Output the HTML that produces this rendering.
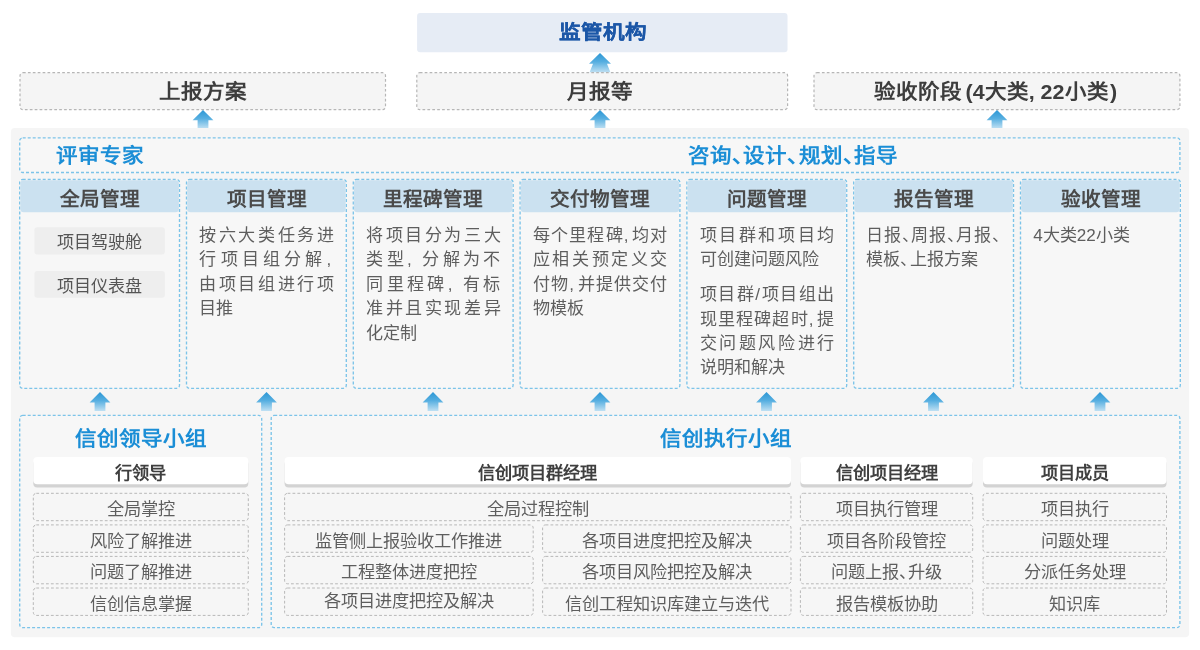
<!DOCTYPE html>
<html lang="zh-CN">
<head>
<meta charset="utf-8">
<title>信创项目管理</title>
<style>
*{box-sizing:border-box;margin:0;padding:0}
html,body{width:1200px;height:650px;background:#fff;overflow:hidden}
body{position:relative;will-change:transform;font-family:"Liberation Sans",sans-serif;color:#555}
.abs{position:absolute}
.c{text-align:center;white-space:nowrap}
.top{left:417px;top:13px;width:371px;color:#1c57a7;font-weight:700;font-size:21.6px;line-height:38px;transform:translateY(.5px) scaleY(.915);-webkit-text-stroke:.2px #1c57a7}
.gd{top:72.6px;color:#3d3d3d;font-weight:700;font-size:21.5px;line-height:38px;transform:scaleY(.93)}
.blue{color:#1b8ed6;font-weight:700;font-size:21.5px;line-height:30px;white-space:nowrap;transform:scaleY(.94)}
.col{top:179.5px;width:160px;height:209px}
.col h3{height:33px;padding-top:3.1px;color:#4a4a4a;font-size:19.6px;font-weight:700;line-height:33px;text-align:center}
.tx{margin-left:12.8px;margin-right:12.8px;font-size:17.1px;line-height:24.4px;color:#5e5e5e}
.l{white-space:nowrap;height:24.4px;transform:translateY(.9px) scaleY(.965)}
.l.j{text-align:justify;text-align-last:justify;text-justify:inter-character;white-space:normal}
.chip{font-size:17.1px;line-height:27px;color:#555;transform:translateY(1.8px) scaleY(.97)}
.hd{height:27px;color:#3f3f3f;font-weight:700;font-size:17.2px;line-height:27px;transform:translateY(2.9px) scaleY(.97)}
.row{height:27.4px;color:#5e5e5e;font-size:17.2px;line-height:27.4px;transform:translateY(3px) scaleY(.97)}
.hw{display:inline-block;width:.54em;white-space:nowrap}
.cm{display:inline-block;width:.42em;white-space:nowrap}
svg{position:absolute;left:0;top:0}
</style>
</head>
<body>
<svg width="1200" height="650" viewBox="0 0 1200 650"><defs><linearGradient id="g" x1="0" y1="0" x2="0" y2="1"><stop offset="0" stop-color="#2c97d5"/><stop offset="0.45" stop-color="#55aee0"/><stop offset="1" stop-color="#bfe0f3"/></linearGradient><style>.sg{fill:#f5f5f5;stroke:#b6b6b6;stroke-width:1.2;stroke-dasharray:2.7 2.2}.sb{fill:#f7f7f7;stroke:#7cc4e9;stroke-width:1.35;stroke-dasharray:3 2}.sr{fill:#f6f6f6;stroke:#b8b8b8;stroke-width:1;stroke-dasharray:2.8 2.1}</style></defs>
<rect x="417.1" y="12.9" width="370.4" height="39.3" rx="3" fill="#e6ecf5"/>
<polygon fill="url(#g)" points="600,53 611,63.8 607,63.8 610.5,72.5 589.5,72.5 593,63.8 589,63.8"/>
<rect x="20.0" y="72.7" width="365.5" height="37.0" rx="3" class="sg"/>
<rect x="416.8" y="72.7" width="370.8" height="37.0" rx="3" class="sg"/>
<rect x="814.0" y="72.7" width="365.9" height="37.0" rx="3" class="sg"/>
<polygon fill="url(#g)" points="203.0,110.0 213.4,120.3 208.4,120.3 208.4,128.5 197.6,128.5 197.6,120.3 192.6,120.3"/>
<polygon fill="url(#g)" points="600.0,110.0 610.4,120.3 605.4,120.3 605.4,128.5 594.6,128.5 594.6,120.3 589.6,120.3"/>
<polygon fill="url(#g)" points="997.0,110.0 1007.4,120.3 1002.4,120.3 1002.4,128.5 991.6,128.5 991.6,120.3 986.6,120.3"/>
<rect x="10.9" y="128.1" width="1178.2" height="509.2" rx="4" fill="#f5f5f5"/>
<rect x="19.7" y="137.8" width="1160.2" height="34.7" rx="3" class="sb"/>
<rect x="19.7" y="179.5" width="159.8" height="208.8" rx="3" class="sb"/>
<rect x="20.3" y="180.2" width="158.6" height="32.0" rx="3.5" fill="#cbe1f0"/>
<rect x="186.5" y="179.5" width="159.8" height="208.8" rx="3" class="sb"/>
<rect x="187.1" y="180.2" width="158.6" height="32.0" rx="3.5" fill="#cbe1f0"/>
<rect x="353.3" y="179.5" width="159.8" height="208.8" rx="3" class="sb"/>
<rect x="353.9" y="180.2" width="158.6" height="32.0" rx="3.5" fill="#cbe1f0"/>
<rect x="520.1" y="179.5" width="159.8" height="208.8" rx="3" class="sb"/>
<rect x="520.7" y="180.2" width="158.6" height="32.0" rx="3.5" fill="#cbe1f0"/>
<rect x="686.9" y="179.5" width="159.8" height="208.8" rx="3" class="sb"/>
<rect x="687.5" y="180.2" width="158.6" height="32.0" rx="3.5" fill="#cbe1f0"/>
<rect x="853.7" y="179.5" width="159.8" height="208.8" rx="3" class="sb"/>
<rect x="854.3" y="180.2" width="158.6" height="32.0" rx="3.5" fill="#cbe1f0"/>
<rect x="1020.5" y="179.5" width="159.8" height="208.8" rx="3" class="sb"/>
<rect x="1021.1" y="180.2" width="158.6" height="32.0" rx="3.5" fill="#cbe1f0"/>
<rect x="34.4" y="227.3" width="130.5" height="27.3" rx="3" fill="#eeeeee"/>
<rect x="34.4" y="270.9" width="130.5" height="26.9" rx="3" fill="#eeeeee"/>
<polygon fill="url(#g)" points="100.0,392.0 110.4,402.5 105.4,402.5 105.4,411.0 94.6,411.0 94.6,402.5 89.6,402.5"/>
<polygon fill="url(#g)" points="266.5,392.0 276.9,402.5 271.9,402.5 271.9,411.0 261.1,411.0 261.1,402.5 256.1,402.5"/>
<polygon fill="url(#g)" points="433.0,392.0 443.4,402.5 438.4,402.5 438.4,411.0 427.6,411.0 427.6,402.5 422.6,402.5"/>
<polygon fill="url(#g)" points="600.0,392.0 610.4,402.5 605.4,402.5 605.4,411.0 594.6,411.0 594.6,402.5 589.6,402.5"/>
<polygon fill="url(#g)" points="766.5,392.0 776.9,402.5 771.9,402.5 771.9,411.0 761.1,411.0 761.1,402.5 756.1,402.5"/>
<polygon fill="url(#g)" points="933.5,392.0 943.9,402.5 938.9,402.5 938.9,411.0 928.1,411.0 928.1,402.5 923.1,402.5"/>
<polygon fill="url(#g)" points="1100.0,392.0 1110.4,402.5 1105.4,402.5 1105.4,411.0 1094.6,411.0 1094.6,402.5 1089.6,402.5"/>
<rect x="19.7" y="415.4" width="242.0" height="212.2" rx="3" class="sb"/>
<rect x="271.2" y="415.4" width="908.7" height="212.2" rx="3" class="sb"/>
<rect x="33.3" y="460.0" width="215.0" height="27.4" rx="4" fill="#d3d3d3"/>
<rect x="33.3" y="457.0" width="215.0" height="27.2" rx="4" fill="#fff"/>
<rect x="33.3" y="493.3" width="215.0" height="27.4" rx="3" class="sr"/>
<rect x="33.3" y="524.9" width="215.0" height="27.4" rx="3" class="sr"/>
<rect x="33.3" y="556.4" width="215.0" height="27.4" rx="3" class="sr"/>
<rect x="33.3" y="588.0" width="215.0" height="27.4" rx="3" class="sr"/>
<rect x="284.6" y="460.0" width="506.4" height="27.4" rx="4" fill="#d3d3d3"/>
<rect x="284.6" y="457.0" width="506.4" height="27.2" rx="4" fill="#fff"/>
<rect x="284.6" y="493.3" width="506.4" height="27.4" rx="3" class="sr"/>
<rect x="284.6" y="524.9" width="248.6" height="27.4" rx="3" class="sr"/>
<rect x="284.6" y="556.4" width="248.6" height="27.4" rx="3" class="sr"/>
<rect x="284.6" y="588.0" width="248.6" height="27.4" rx="3" class="sr"/>
<rect x="542.6" y="524.9" width="248.4" height="27.4" rx="3" class="sr"/>
<rect x="542.6" y="556.4" width="248.4" height="27.4" rx="3" class="sr"/>
<rect x="542.6" y="588.0" width="248.4" height="27.4" rx="3" class="sr"/>
<rect x="800.4" y="460.0" width="172.3" height="27.4" rx="4" fill="#d3d3d3"/>
<rect x="800.4" y="457.0" width="172.3" height="27.2" rx="4" fill="#fff"/>
<rect x="800.4" y="493.3" width="172.3" height="27.4" rx="3" class="sr"/>
<rect x="800.4" y="524.9" width="172.3" height="27.4" rx="3" class="sr"/>
<rect x="800.4" y="556.4" width="172.3" height="27.4" rx="3" class="sr"/>
<rect x="800.4" y="588.0" width="172.3" height="27.4" rx="3" class="sr"/>
<rect x="983.0" y="460.0" width="183.5" height="27.4" rx="4" fill="#d3d3d3"/>
<rect x="983.0" y="457.0" width="183.5" height="27.2" rx="4" fill="#fff"/>
<rect x="983.0" y="493.3" width="183.5" height="27.4" rx="3" class="sr"/>
<rect x="983.0" y="524.9" width="183.5" height="27.4" rx="3" class="sr"/>
<rect x="983.0" y="556.4" width="183.5" height="27.4" rx="3" class="sr"/>
<rect x="983.0" y="588.0" width="183.5" height="27.4" rx="3" class="sr"/>
</svg>
<div class="abs top c">监管机构</div>
<div class="abs gd c" style="left:20px;width:366px">上报方案</div>
<div class="abs gd c" style="left:414.3px;width:371px">月报等</div>
<div class="abs gd c" style="left:812.4px;width:366px">验收阶段<span style="margin-left:4px">(</span>4大类, 22小类<span style="margin-left:1.5px">)</span></div>
<div class="abs blue" style="left:55.5px;top:140.8px">评审专家</div><div class="abs blue" style="left:687.5px;top:140.8px">咨询<span class="hw">、</span>设计<span class="hw">、</span>规划<span class="hw">、</span>指导</div>
<div class="abs col" style="left:19.7px"><h3>全局管理</h3><div class="abs chip c" style="left:14.5px;top:47.5px;width:130.5px">项目驾驶舱</div><div class="abs chip c" style="left:14.5px;top:91px;width:130.5px">项目仪表盘</div></div>
<div class="abs col" style="left:186.5px"><h3>项目管理</h3><div class="tx" style="margin-top:10.5px"><div class="l j">按六大类任务进</div><div class="l j">行项目组分解<span class="cm">,</span></div><div class="l j">由项目组进行项</div><div class="l">目推</div></div></div>
<div class="abs col" style="left:353.3px"><h3>里程碑管理</h3><div class="tx" style="margin-top:10.5px"><div class="l j">将项目分为三大</div><div class="l j">类型<span class="cm">,</span> 分解为不</div><div class="l j">同里程碑<span class="cm">,</span> 有标</div><div class="l j">准并且实现差异</div><div class="l">化定制</div></div></div>
<div class="abs col" style="left:520.1px"><h3>交付物管理</h3><div class="tx" style="margin-top:10.5px"><div class="l j">每个里程碑<span class="cm">,</span>均对</div><div class="l j">应相关预定义交</div><div class="l j">付物<span class="cm">,</span>并提供交付</div><div class="l">物模板</div></div></div>
<div class="abs col" style="left:686.9px"><h3>问题管理</h3><div class="tx" style="margin-top:10.5px"><div class="l j">项目群和项目均</div><div class="l">可创建问题风险</div></div><div class="tx" style="margin-top:10.4px"><div class="l j">项目群/项目组出</div><div class="l j">现里程碑超时<span class="cm">,</span>提</div><div class="l j">交问题风险进行</div><div class="l">说明和解决</div></div></div>
<div class="abs col" style="left:853.7px"><h3>报告管理</h3><div class="tx" style="margin-top:10.5px"><div class="l j">日报<span class="hw">、</span>周报<span class="hw">、</span>月报<span class="hw">、</span></div><div class="l">模板<span class="hw">、</span>上报方案</div></div></div>
<div class="abs col" style="left:1020.5px"><h3>验收管理</h3><div class="tx" style="margin-top:10.5px"><div class="l">4大类22小类</div></div></div>
<div class="abs blue c" style="left:20px;top:423.5px;width:242px">信创领导小组</div>
<div class="abs blue c" style="left:271px;top:423.5px;width:909px">信创执行小组</div>
<div class="abs hd c" style="left:33.3px;top:457px;width:215.0px">行领导</div>
<div class="abs row c" style="left:33.3px;top:493.3px;width:215.0px">全局掌控</div>
<div class="abs row c" style="left:33.3px;top:524.9px;width:215.0px">风险了解推进</div>
<div class="abs row c" style="left:33.3px;top:556.4px;width:215.0px">问题了解推进</div>
<div class="abs row c" style="left:33.3px;top:588.0px;width:215.0px">信创信息掌握</div>
<div class="abs hd c" style="left:284.6px;top:457px;width:506.4px">信创项目群经理</div>
<div class="abs row c" style="left:284.6px;top:493.3px;width:506.4px">全局过程控制</div>
<div class="abs row c" style="left:284.6px;top:524.9px;width:248.6px">监管侧上报验收工作推进</div>
<div class="abs row c" style="left:284.6px;top:556.4px;width:248.6px">工程整体进度把控</div>
<div class="abs row c" style="left:284.6px;top:584.9px;width:248.6px">各项目进度把控及解决</div>
<div class="abs row c" style="left:542.6px;top:524.9px;width:248.4px">各项目进度把控及解决</div>
<div class="abs row c" style="left:542.6px;top:556.4px;width:248.4px">各项目风险把控及解决</div>
<div class="abs row c" style="left:542.6px;top:588.0px;width:248.4px">信创工程知识库建立与迭代</div>
<div class="abs hd c" style="left:800.4px;top:457px;width:172.3px">信创项目经理</div>
<div class="abs row c" style="left:800.4px;top:493.3px;width:172.3px">项目执行管理</div>
<div class="abs row c" style="left:800.4px;top:524.9px;width:172.3px">项目各阶段管控</div>
<div class="abs row c" style="left:800.4px;top:556.4px;width:172.3px">问题上报<span class="hw">、</span>升级</div>
<div class="abs row c" style="left:800.4px;top:588.0px;width:172.3px">报告模板协助</div>
<div class="abs hd c" style="left:983px;top:457px;width:183.5px">项目成员</div>
<div class="abs row c" style="left:983px;top:493.3px;width:183.5px">项目执行</div>
<div class="abs row c" style="left:983px;top:524.9px;width:183.5px">问题处理</div>
<div class="abs row c" style="left:983px;top:556.4px;width:183.5px">分派任务处理</div>
<div class="abs row c" style="left:983px;top:588.0px;width:183.5px">知识库</div>
</body>
</html>
